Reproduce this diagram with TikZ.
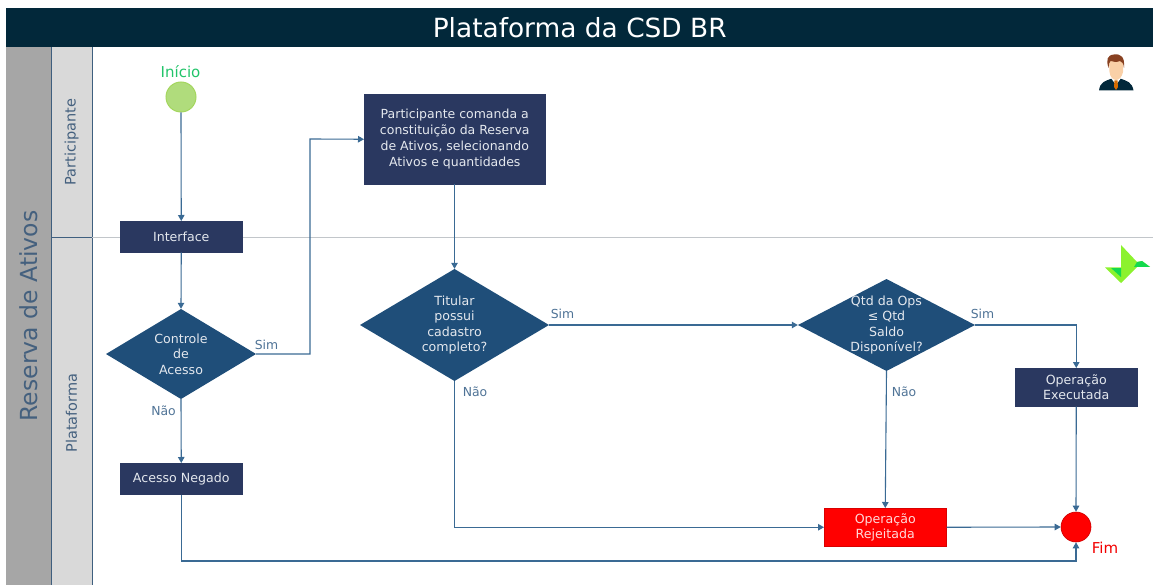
\documentclass[tikz,border=0pt]{standalone}
\usepackage{fontspec}
\setmainfont{DejaVu Sans}
\usetikzlibrary{shapes.geometric,arrows.meta,calc}
\definecolor{hdr}{HTML}{02283A}
\definecolor{boxc}{HTML}{2A3860}
\definecolor{dia}{HTML}{1F4E79}
\definecolor{wire}{HTML}{3A6A94}
\definecolor{lab}{HTML}{4F7396}
\definecolor{bandA}{HTML}{A6A6A6}
\definecolor{bandB}{HTML}{D9D9D9}
\definecolor{bandT}{HTML}{44607E}
\definecolor{bandL}{HTML}{3F5F7F}
\definecolor{txt}{HTML}{E4E8EE}
\definecolor{startF}{HTML}{B0DC7C}
\definecolor{startD}{HTML}{A4D65E}
\definecolor{startT}{HTML}{22C46A}
\definecolor{divider}{HTML}{C2C6CA}
\tikzset{
 x=1pt,y=-1pt,
 txtsize/.style={font=\fontsize{12.6}{15.4}\selectfont},
 proc/.style={draw=boxc,line width=.5pt,fill=boxc,text=txt,txtsize,align=center,inner sep=0pt,anchor=north west},
 rej/.style={draw=red!85!black,line width=.5pt,fill=red,text=white!85!red,txtsize,align=center,inner sep=0pt,anchor=north west},
 dectext/.style={text=txt,txtsize,align=center,inner sep=0pt},
 flow/.style={draw=wire,line width=1.1pt,-{Triangle[length=6pt,width=6.5pt]}},
 lbl/.style={text=lab,font=\fontsize{12.4}{14}\selectfont,inner sep=0pt},
 band/.style={anchor=north west,inner sep=0pt},
 lane/.style={text=bandT,rotate=90,inner sep=0pt},
 laneline/.style={draw=bandL,line width=1pt},
}
\begin{document}
\begin{tikzpicture}
\useasboundingbox (0,0) rectangle (1153,585);
% frame
\node[anchor=north west,fill=hdr,minimum width=1147pt,minimum height=39pt,inner sep=0pt,text=white,font=\fontsize{26.4}{30}\selectfont] (title) at (6,8) {Plataforma da CSD BR};
\node[band,fill=bandA,minimum width=45pt,minimum height=538pt] (bandmain) at (6,47) {};
\node[band,fill=bandB,minimum width=41pt,minimum height=538pt] (bandsub) at (51,47) {};
\draw[laneline] (51,47) -- (51,585);
\draw[laneline] (92,47) -- (92,585);
\draw[laneline] (51,237.5) -- (92,237.5);
\draw[divider,line width=1.6pt] (92,237.5) -- (1153,237.5);
\node[lane,font=\fontsize{23.5}{26}\selectfont] (lmain) at (29,316) {Reserva de Ativos};
\node[lane,font=\fontsize{14.5}{16}\selectfont] (lpart) at (71.5,142) {Participante};
\node[lane,font=\fontsize{14.5}{16}\selectfont] (lplat) at (71.5,413) {Plataforma};
% start / end
\node[circle,draw=startD,fill=startF,minimum size=30pt,inner sep=0pt,line width=1pt] (start) at (181,97) {};
\node[text=startT,font=\fontsize{15}{17}\selectfont,inner sep=0pt] (startlab) at (180.5,72) {Início};
\node[circle,draw=red!80!black,fill=red,minimum size=30pt,inner sep=0pt,line width=.6pt] (fim) at (1076,527) {};
\node[text=red!95!black,font=\fontsize{15}{17}\selectfont,inner sep=0pt] (fimlab) at (1105,548) {Fim};
% processes
\node[proc,minimum width=122pt,minimum height=31pt] (iface) at (120,221) {Interface};
\node[proc,minimum width=122pt,minimum height=31pt] (neg) at (120,463) {Acesso Negado};
\node[proc,minimum width=181pt,minimum height=90pt,font=\fontsize{12.5}{16}\selectfont] (cmd) at (364,94) {Participante comanda a\\constituição da Reserva\\de Ativos, selecionando\\Ativos e quantidades};
\node[proc,minimum width=122pt,minimum height=38pt] (exec) at (1015,368) {Operação\\Executada};
\node[rej,minimum width=122pt,minimum height=38pt] (rejn) at (824,508) {Operação\\Rejeitada};
% decisions
\path[fill=dia] (106,354) -- (181,309) -- (256,354) -- (181,399) -- cycle;
\path[fill=dia] (360,325) -- (454.5,269) -- (549,325) -- (454.5,381) -- cycle;
\path[fill=dia] (798,325) -- (886.5,279) -- (975,325) -- (886.5,371) -- cycle;
\node[dectext,minimum width=150pt,minimum height=90pt] (d1) at (181,354) {Controle\\de\\Acesso};
\node[dectext,minimum width=189pt,minimum height=112pt] (d2) at (454.5,325) {Titular\\possui\\cadastro\\completo?};
\node[dectext,minimum width=177pt,minimum height=92pt] (d3) at (886.5,325) {Qtd da Ops\\≤ Qtd\\Saldo\\Disponível?};
% connectors
\draw[flow] (start.south) -- (iface.north);
\draw[flow] (iface.south) -- (d1.north);
\draw[flow] (d1.south) -- (neg.north);
\draw[flow] (d1.east) -- (310,354) -- (310,139) -- (cmd.west);
\draw[flow] (cmd.south -| d2.north) -- (d2.north);
\draw[flow] (d2.east) -- (d3.west);
\draw[flow] (d3.east) -- (exec.north |- d3.east) -- (exec.north);
\draw[flow] (d3.south) -- (rejn.north);
\draw[flow] (d2.south) -- (d2.south |- rejn.west) -- (rejn.west);
\draw[flow] (rejn.east) -- (fim.west);
\draw[flow] (exec.south) -- (fim.north);
\draw[flow] (neg.south) -- (neg.south |- 0,561) -- (fim.south |- 0,561) -- (fim.south);
% labels
\node[lbl] (s1) at (266.5,344.5) {Sim};
\node[lbl] (n1) at (163.5,411) {Não};
\node[lbl] (s2) at (562.5,314) {Sim};
\node[lbl] (n2) at (475,392) {Não};
\node[lbl] (s3) at (982.5,313.5) {Sim};
\node[lbl] (n3) at (904,392) {Não};
% person icon
\fill[hdr] (1099,90.5) .. controls (1100,82) and (1105,81) .. (1112,78.5) -- (1120,78.5) .. controls (1127,81) and (1132,82) .. (1133.5,90.5) -- cycle;
\fill[white] (1111,78) -- (1116,85) -- (1121,78) -- cycle;
\fill[orange!85!black] (1114.5,80.5) -- (1117.5,80.5) -- (1118,87) -- (1116,90) -- (1114,87) -- cycle;
\fill[orange!30!white!90!brown] (1109,60) -- (1123.5,60) -- (1123,72) .. controls (1122,77) and (1119,80) .. (1116,80) .. controls (1113,80) and (1110,77) .. (1109.5,72) -- cycle;
\fill[brown!60!black!85!red] (1108.5,68) .. controls (1106,60) and (1107,55) .. (1114,54.5) .. controls (1121,53.5) and (1125,57) .. (1124,68) .. controls (1123.5,63) and (1122,62) .. (1120,61) .. controls (1116,63) and (1112,61) .. (1110.5,61) .. controls (1109,62) and (1109,64) .. (1108.5,68) -- cycle;
% logo
\definecolor{logoA}{HTML}{8CF22E}
\definecolor{logoB}{HTML}{14D94E}
\fill[logoA] (1121,245) -- (1137,262) -- (1142,261) -- (1150,267) -- (1137,267) -- (1121,283) -- (1105,267.5) -- (1121,267.5) -- cycle;
\fill[logoB] (1142,261) -- (1150,267) -- (1134,267) -- (1137,262) -- cycle;
\fill[logoB] (1111,268) -- (1121,268) -- (1121,277) -- cycle;
\end{tikzpicture}
\end{document}
